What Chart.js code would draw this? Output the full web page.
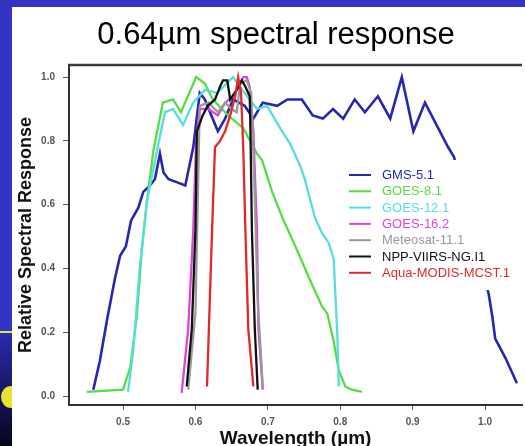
<!DOCTYPE html>
<html>
<head>
<meta charset="utf-8">
<script src="https://cdn.jsdelivr.net/npm/chart.js@4.4.1/dist/chart.umd.min.js"></script>
<style>
  body { margin: 0; }
  #wrap { position: relative; width: 525px; height: 446px; background: #3333c6; overflow: hidden; }
  #panel { position: absolute; left: 12px; top: 7px; right: 0; bottom: 0; background: #fff; }
  #stripe { position: absolute; left: 0; top: 331px; width: 12px; height: 2px; background: #e8e330; }
  #lower { position: absolute; left: 0; top: 333px; width: 12px; height: 113px; overflow: hidden;
           background: linear-gradient(#2a2aae, #06061c); }
  #dot { position: absolute; left: 1px; top: 53px; width: 20px; height: 22px; border-radius: 50%; background: #e8e330; }
  canvas { position: absolute; left: 0; top: 0; }
</style>
</head>
<body>
<div id="wrap">
  <div id="panel"></div>
  <div id="stripe"></div>
  <div id="lower"><div id="dot"></div></div>
  <canvas id="srfChart" width="525" height="446"></canvas>
</div>
<script>
// spectral response curves (wavelength in um, relative response)
const gmsWave = [0.459,0.468,0.478,0.489,0.496,0.504,0.511,0.521,0.528,0.537,0.544,0.551,0.556,0.563,0.575,0.586,0.597,0.606,0.613,0.631,0.641,0.652,0.668,0.680,0.693,0.713,0.727,0.747,0.762,0.776,0.790,0.804,0.820,0.834,0.852,0.869,0.885,0.901,0.917,0.949,0.957,1.005,1.010,1.014,1.028,1.044];
const gmsResp = [0.02,0.11,0.24,0.37,0.44,0.47,0.55,0.59,0.64,0.66,0.68,0.76,0.70,0.68,0.67,0.66,0.78,0.95,0.93,0.83,0.87,0.93,0.91,0.87,0.92,0.91,0.93,0.93,0.88,0.87,0.90,0.87,0.93,0.89,0.94,0.87,1.00,0.83,0.92,0.78,0.75,0.32,0.25,0.18,0.12,0.04];

const goes8Wave = [0.450,0.500,0.510,0.519,0.526,0.533,0.542,0.555,0.569,0.580,0.601,0.613,0.624,0.645,0.666,0.685,0.692,0.706,0.720,0.738,0.757,0.775,0.782,0.791,0.798,0.807,0.816,0.830];
const goes8Resp = [0.013,0.02,0.09,0.25,0.46,0.61,0.77,0.92,0.93,0.89,1.00,0.98,0.93,0.88,0.84,0.76,0.74,0.64,0.56,0.47,0.37,0.28,0.26,0.17,0.08,0.03,0.02,0.013];

const goes12Wave = [0.507,0.514,0.523,0.533,0.547,0.558,0.569,0.583,0.597,0.613,0.630,0.652,0.668,0.685,0.699,0.717,0.731,0.745,0.751,0.765,0.775,0.784,0.791,0.793,0.796,0.798];
const goes12Resp = [0.013,0.14,0.40,0.61,0.77,0.89,0.90,0.85,0.92,0.96,0.95,1.00,0.95,0.90,0.91,0.84,0.79,0.72,0.68,0.56,0.51,0.48,0.43,0.33,0.19,0.03];

const goes16Wave = [0.581,0.590,0.597,0.601,0.606,0.618,0.631,0.641,0.652,0.660,0.666,0.671,0.675,0.680,0.685,0.687,0.693];
const goes16Resp = [0.01,0.21,0.52,0.80,0.90,0.90,0.88,0.92,0.94,0.97,1.00,1.00,0.97,0.83,0.52,0.21,0.02];

const meteoWave = [0.590,0.600,0.604,0.606,0.618,0.631,0.641,0.650,0.657,0.662,0.671,0.677,0.681,0.686,0.693];
const meteoResp = [0.02,0.26,0.70,0.91,0.92,0.89,0.92,0.90,0.89,0.98,0.99,0.95,0.70,0.30,0.03];

const viirsWave = [0.588,0.595,0.600,0.602,0.610,0.617,0.627,0.634,0.638,0.644,0.648,0.657,0.664,0.669,0.675,0.676,0.678,0.682,0.686];
const viirsResp = [0.03,0.21,0.52,0.83,0.88,0.91,0.93,0.97,0.99,0.99,0.93,0.96,0.99,0.97,0.94,0.83,0.52,0.21,0.02];

const modisWave = [0.616,0.620,0.623,0.627,0.634,0.641,0.648,0.655,0.659,0.663,0.666,0.669,0.673,0.680];
const modisResp = [0.03,0.31,0.52,0.78,0.80,0.83,0.88,0.94,1.00,0.95,0.78,0.52,0.21,0.03];

const seriesNames = ['GMS-5.1','GOES-8.1','GOES-12.1','GOES-16.2','Meteosat-11.1','NPP-VIIRS-NG.I1','Aqua-MODIS-MCST.1'];
const seriesColors = ['#2626b0','#55dd44','#55dede','#dd44dd','#9a9a9a','#111111','#e02a2a'];

const xTicks = [0.5, 0.6, 0.7, 0.8, 0.9, 1.0];
const yTicks = [0.0, 0.2, 0.4, 0.6, 0.8, 1.0];

const waves = [gmsWave, goes8Wave, goes12Wave, goes16Wave, meteoWave, viirsWave, modisWave];
const resps = [gmsResp, goes8Resp, goes12Resp, goes16Resp, meteoResp, viirsResp, modisResp];

const datasets = seriesNames.map((name, i) => ({
  label: name,
  data: waves[i].map((w, j) => ({x: w, y: resps[i][j]})),
  borderColor: seriesColors[i],
  backgroundColor: seriesColors[i],
  borderWidth: i === 0 ? 2.6 : 2.3,
  pointRadius: 0,
  tension: 0,
  fill: false,
  order: seriesNames.length - i
}));

const FONT = "'Liberation Sans', Arial, Helvetica, sans-serif";

// title, top frame line and the boxed legend inside the plot
const extras = {
  id: 'extras',
  afterDatasetsDraw(chart) {
    const ctx = chart.ctx;
    const a = chart.chartArea;
    ctx.save();
    ctx.fillStyle = '#fff';
    ctx.fillRect(340, 160, 185, 130);
    ctx.font = '13px ' + FONT;
    ctx.textBaseline = 'middle';
    chart.data.datasets.forEach((ds, i) => {
      const y = 175 + i * 16.3;
      ctx.strokeStyle = ds.borderColor;
      ctx.lineWidth = 2;
      ctx.beginPath();
      ctx.moveTo(349, y);
      ctx.lineTo(371, y);
      ctx.stroke();
      ctx.fillStyle = ds.borderColor;
      ctx.fillText(ds.label, 382, y + 0.5);
    });
    ctx.strokeStyle = '#3a3a3a';
    ctx.lineWidth = 2.5;
    ctx.beginPath();
    ctx.moveTo(a.left - 1, a.top);
    ctx.lineTo(a.right, a.top);
    ctx.stroke();
    ctx.fillStyle = '#000';
    ctx.font = '31px ' + FONT;
    ctx.textAlign = 'center';
    ctx.fillText('0.64\u00b5m spectral response', 276, 35);
    ctx.restore();
  }
};

new Chart(document.getElementById('srfChart'), {
  type: 'line',
  data: { datasets: datasets },
  plugins: [extras],
  options: {
    responsive: false,
    animation: false,
    devicePixelRatio: 1,
    layout: { padding: { left: 12, top: 65, right: 3, bottom: 0 } },
    plugins: { legend: { display: false }, tooltip: { enabled: false } },
    scales: {
      x: {
        type: 'linear',
        min: 0.4254,
        max: 1.051,
        afterFit(scale) { scale.height = 41; },
        afterBuildTicks(scale) { scale.ticks = xTicks.map(v => ({value: v})); },
        border: { display: true, color: '#333', width: 2 },
        grid: { drawOnChartArea: false, tickLength: 5, color: '#555', lineWidth: 1 },
        ticks: {
          padding: 6,
          color: '#555',
          font: { family: FONT, size: 10, weight: 'bold' },
          callback: v => v.toFixed(1)
        },
        title: {
          display: true,
          text: 'Wavelength (\u00b5m)',
          color: '#111',
          font: { family: FONT, size: 19, weight: 'bold' },
          padding: { top: 0, bottom: -4 }
        }
      },
      y: {
        min: -0.028,
        max: 1.038,
        afterFit(scale) { scale.width = 57; },
        afterBuildTicks(scale) { scale.ticks = yTicks.map(v => ({value: v})); },
        border: { display: true, color: '#333', width: 2 },
        grid: { drawOnChartArea: false, tickLength: 6, color: '#555', lineWidth: 1 },
        ticks: {
          padding: 8,
          color: '#555',
          font: { family: FONT, size: 10, weight: 'bold' },
          callback: v => v.toFixed(1)
        },
        title: {
          display: true,
          text: 'Relative Spectral Response',
          color: '#111',
          font: { family: FONT, size: 18, weight: 'bold' },
          padding: { top: 3, bottom: 0 }
        }
      }
    }
  }
});
</script>
</body>
</html>
